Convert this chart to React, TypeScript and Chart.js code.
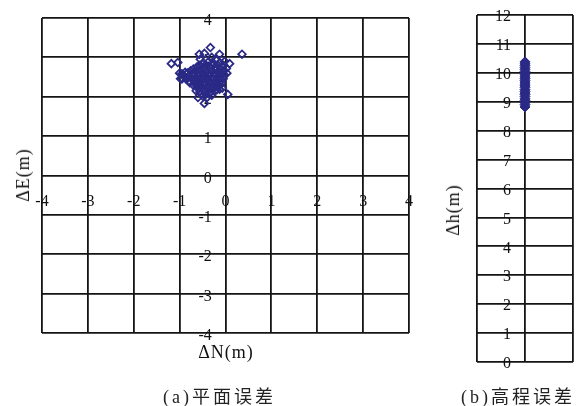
import React, { useEffect, useRef } from "react";
import { Chart, registerables } from "chart.js";

Chart.register(...registerables);

// Plane error scatter (ΔN, ΔE) in metres
const dN: number[] = [
  -1.18, -1.04, -0.98, -0.33, -0.57, -0.46, -0.13, 0.36, 0.09, 0.05, -0.46, -0.6, -0.13, -0.64, -0.3, -0.22, -0.02, -0.55,
  -0.5, -0.38, -0.25, -0.12,
  -0.62, -0.48, -0.36, -0.22, -0.08, 0.02,
  -0.88, -0.76, -0.65, -0.54, -0.42, -0.3, -0.18, -0.06, 0.03,
  -0.92, -0.81, -0.7, -0.58, -0.47, -0.35, -0.24, -0.12, -0.02,
  -0.85, -0.74, -0.62, -0.5, -0.39, -0.27, -0.15, -0.05,
  -0.78, -0.66, -0.55, -0.43, -0.31, -0.19, -0.08,
  -0.62, -0.51, -0.4, -0.28, -0.16, -0.07,
  -0.56, -0.45, -0.34, -0.24,
  -0.5, -0.4, -0.3,
  -1.0, -0.95,
  -0.56, -0.43, -0.3, -0.17, -0.04,
  -0.7, -0.58, -0.45, -0.33, -0.2, -0.1,
  -0.95, -0.83, -0.71, -0.6, -0.48, -0.36, -0.24, -0.12,
  -0.88, -0.76, -0.64, -0.53, -0.41, -0.3, -0.18, -0.07,
  -0.8, -0.69, -0.57, -0.45, -0.34, -0.22, -0.11,
  -0.7, -0.59, -0.48, -0.37, -0.25, -0.13,
  -0.58, -0.48, -0.38, -0.28, -0.19,
  -0.53, -0.43, -0.35,
];
const dE: number[] = [
  2.84, 2.87, 2.46, 3.25, 3.08, 3.1, 3.08, 3.08, 2.84, 2.06, 1.83, 1.98, 2.19, 2.15, 3.0, 2.95, 2.9, 2.95,
  2.85, 2.88, 2.84, 2.86,
  2.76, 2.74, 2.78, 2.73, 2.77, 2.72,
  2.62, 2.66, 2.64, 2.67, 2.63, 2.66, 2.62, 2.65, 2.6,
  2.55, 2.52, 2.56, 2.53, 2.57, 2.54, 2.56, 2.52, 2.55,
  2.44, 2.47, 2.43, 2.46, 2.42, 2.45, 2.43, 2.46,
  2.36, 2.33, 2.37, 2.34, 2.36, 2.32, 2.35,
  2.26, 2.24, 2.27, 2.23, 2.26, 2.22,
  2.12, 2.15, 2.11, 2.14,
  2.02, 1.98, 2.04,
  2.6, 2.45,
  2.8, 2.81, 2.8, 2.81, 2.8,
  2.7, 2.71, 2.69, 2.71, 2.69, 2.7,
  2.58, 2.6, 2.61, 2.59, 2.6, 2.61, 2.6, 2.59,
  2.5, 2.5, 2.49, 2.51, 2.5, 2.49, 2.5, 2.49,
  2.4, 2.41, 2.4, 2.39, 2.4, 2.41, 2.39,
  2.29, 2.3, 2.31, 2.29, 2.3, 2.29,
  2.19, 2.2, 2.19, 2.2, 2.18,
  2.07, 2.06, 2.08,
];

// Height error (Δh) in metres
const dH: number[] = [
  8.82, 8.9, 8.97, 9.05, 9.1, 9.18, 9.25, 9.3, 9.36, 9.42, 9.5, 9.55, 9.61, 9.68, 9.74, 9.8, 9.86, 9.93, 9.99, 10.05,
  10.12, 10.18, 10.25, 10.31, 10.38,
];

const planeTicks: string[] = ["-4", "-3", "-2", "-1", "0", "1", "2", "3", "4"];
const heightTicks: string[] = ["0", "1", "2", "3", "4", "5", "6", "7", "8", "9", "10", "11", "12"];

const NAVY = "#2B2A86";
const GRID = "#141414";
const SERIF = "'Liberation Serif', 'Times New Roman', serif";

function PlaneChart() {
  const ref = useRef<HTMLCanvasElement | null>(null);
  useEffect(() => {
    if (!ref.current) return;
    const pts = dN.map((n, i) => ({ x: n, y: dE[i] }));
    const chart = new Chart(ref.current, {
      type: "scatter",
      data: {
        datasets: [
          {
            data: pts,
            pointStyle: "rectRot",
            pointRadius: 3.8,
            borderWidth: 1.8,
            borderColor: NAVY,
            backgroundColor: "rgba(255,255,255,0)",
          },
        ],
      },
      options: {
        responsive: false,
        animation: false,
        layout: { padding: { left: 42, top: 18, right: 31, bottom: 37 } },
        plugins: { legend: { display: false }, tooltip: { enabled: false } },
        scales: {
          x: {
            type: "linear",
            min: -4,
            max: 4,
            position: { y: 0 } as any,
            border: { display: false },
            grid: { color: GRID, lineWidth: 1.8, drawTicks: false },
            ticks: {
              stepSize: 1,
              padding: 17,
              color: "#111",
              font: { family: SERIF, size: 16 },
              callback: (v: any) => planeTicks[Math.round(Number(v)) + 4],
            },
          },
          y: {
            type: "linear",
            min: -4,
            max: 4,
            position: { x: -0.3 } as any,
            border: { display: false },
            grid: { color: GRID, lineWidth: 1.8, drawTicks: false },
            ticks: {
              stepSize: 1,
              padding: 0,
              labelOffset: 3,
              color: "#111",
              font: { family: SERIF, size: 16 },
              callback: (v: any) => planeTicks[Math.round(Number(v)) + 4],
            },
          },
        },
      },
    });
    return () => chart.destroy();
  }, []);
  return <canvas ref={ref} width={440} height={370} style={{ position: "absolute", left: 0, top: 0, width: 440, height: 370 }} />;
}

function HeightChart() {
  const ref = useRef<HTMLCanvasElement | null>(null);
  useEffect(() => {
    if (!ref.current) return;
    const pts = dH.map((h) => ({ x: 1, y: h }));
    const chart = new Chart(ref.current, {
      type: "scatter",
      data: {
        datasets: [
          {
            data: pts,
            pointStyle: "rectRot",
            pointRadius: 5,
            borderWidth: 1,
            borderColor: NAVY,
            backgroundColor: NAVY,
          },
        ],
      },
      options: {
        responsive: false,
        animation: false,
        layout: { padding: { left: 47, top: 15, right: 8, bottom: 18 } },
        plugins: { legend: { display: false }, tooltip: { enabled: false } },
        scales: {
          x: {
            type: "linear",
            min: 0,
            max: 2,
            border: { display: false },
            grid: { color: GRID, lineWidth: 1.8, drawTicks: false },
            ticks: { display: false, stepSize: 1 },
          },
          y: {
            type: "linear",
            min: 0,
            max: 12,
            position: { x: 0.71 } as any,
            border: { display: false },
            grid: { color: GRID, lineWidth: 1.8, drawTicks: false },
            ticks: {
              stepSize: 1,
              padding: 0,
              labelOffset: 2,
              color: "#111",
              font: { family: SERIF, size: 16 },
              callback: (v: any) => heightTicks[Math.round(Number(v))],
            },
          },
        },
      },
    });
    return () => chart.destroy();
  }, []);
  return <canvas ref={ref} width={151} height={380} style={{ position: "absolute", left: 430, top: 0, width: 151, height: 380 }} />;
}

const titleStyle: React.CSSProperties = {
  position: "absolute",
  fontFamily: SERIF,
  fontSize: 18,
  letterSpacing: 1,
  color: "#111",
  whiteSpace: "nowrap",
  lineHeight: "20px",
};

const captionStyle: React.CSSProperties = {
  position: "absolute",
  fontFamily: "'Liberation Serif', 'Noto Sans CJK SC', sans-serif",
  fontSize: 18,
  color: "#222",
  whiteSpace: "nowrap",
  lineHeight: "20px",
  top: 385,
  letterSpacing: 3,
};

const cjkStyle: React.CSSProperties = { fontFamily: "'Noto Sans CJK SC', sans-serif", letterSpacing: 3 };

export default function App() {
  return (
    <div style={{ position: "fixed", left: 0, top: 0, width: 581, height: 406, background: "#fff", overflow: "hidden" }}>
      <PlaneChart />
      <HeightChart />
      <div style={{ ...titleStyle, left: 226, top: 342, transform: "translateX(-50%)" }}>ΔN(m)</div>
      <div style={{ ...titleStyle, left: 23, top: 175, transform: "translate(-50%, -50%) rotate(-90deg)" }}>ΔE(m)</div>
      <div style={{ ...titleStyle, left: 453, top: 210, transform: "translate(-50%, -50%) rotate(-90deg)" }}>Δh(m)</div>
      <div style={{ ...captionStyle, left: 163 }}>
        (a)<span style={cjkStyle}>平面误差</span>
      </div>
      <div style={{ ...captionStyle, left: 461 }}>
        (b)<span style={cjkStyle}>高程误差</span>
      </div>
    </div>
  );
}
